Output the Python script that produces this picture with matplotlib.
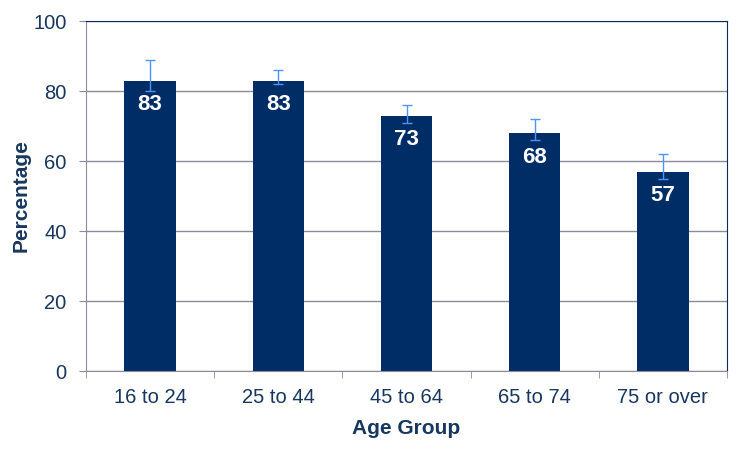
import numpy as np
import matplotlib.pyplot as plt

plt.rcParams['font.family'] = ['Liberation Sans', 'DejaVu Sans']

age_groups = ['16 to 24', '25 to 44', '45 to 64', '65 to 74', '75 or over']
percentages = [83, 83, 73, 68, 57]
ci_lower = [80, 82, 71, 66, 55]
ci_upper = [89, 86, 76, 72, 62]

BAR = '#002D66'
TEXT = '#17375E'
GRID = '#8A8C9C'
ERR = '#4D94FF'

fig = plt.figure(figsize=(7.5, 4.54), dpi=100)
ax = fig.add_axes([0.1147, 0.1828, 0.8546, 0.7709])

x = np.arange(len(age_groups))
vals = np.array(percentages)
yerr = np.array([vals - np.array(ci_lower), np.array(ci_upper) - vals])

ax.bar(x, vals, width=0.4, color=BAR, zorder=2)
ax.errorbar(x, vals, yerr=yerr, fmt='none', ecolor=ERR, elinewidth=1,
            capsize=3.6, capthick=1, zorder=3)

# value labels inside the top of each bar
for xi, v in zip(x, vals):
    ax.annotate(str(v), (xi, v), xytext=(0, -17.5), textcoords='offset points',
                ha='center', va='center', color='white', fontsize=16,
                fontweight='bold', zorder=4)

ax.set_xlim(-0.5, len(age_groups) - 0.5)
ax.set_ylim(0, 100)
ax.set_yticks(np.arange(0, 101, 20))
ax.yaxis.grid(True, color=GRID, linewidth=1, zorder=0)
ax.set_axisbelow(True)

ax.set_xticks(x)
ax.set_xticklabels(age_groups)
ax.set_xticks(np.arange(-0.5, len(age_groups), 1), minor=True)
ax.tick_params(axis='x', which='major', length=0, pad=12, labelsize=14.5, labelcolor=TEXT)
ax.tick_params(axis='x', which='minor', length=5, color=GRID, direction='out')
ax.tick_params(axis='y', length=5, color=GRID, pad=9, labelsize=14.5, labelcolor=TEXT)

ax.spines['left'].set_color(GRID)
ax.spines['bottom'].set_color(GRID)
ax.spines['top'].set_color('#0B2A5B')
ax.spines['right'].set_color('#0B2A5B')

ax.set_xlabel('Age Group', fontsize=15, fontweight='bold', color=TEXT, labelpad=9)
ax.set_ylabel('Percentage', fontsize=15, fontweight='bold', color=TEXT, labelpad=2)

plt.savefig('out.png', dpi=100)
